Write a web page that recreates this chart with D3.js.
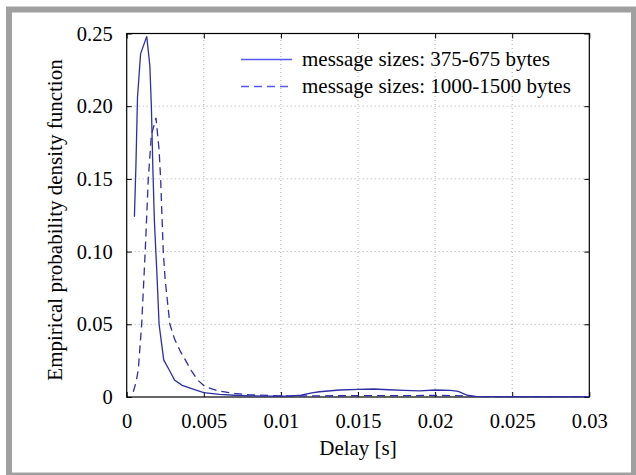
<!DOCTYPE html>
<html>
<head>
<meta charset="utf-8">
<script src="https://cdn.jsdelivr.net/npm/d3@7"></script>
<style>
  body { margin: 0; background: #fff; }
  svg { display: block; }
  text { font-family: "Liberation Serif", "DejaVu Serif", serif; fill: #000; }
</style>
</head>
<body>
<div id="chart"></div>
<script>
// delay [s] and empirical pdf
const smallX = [0.0005, 0.0006, 0.0007, 0.0009, 0.0013, 0.0015, 0.0016, 0.0017, 0.0018, 0.00195, 0.0021, 0.0024, 0.00276, 0.0031, 0.0036, 0.0045, 0.005, 0.006, 0.007, 0.008, 0.009, 0.010, 0.0105, 0.0113, 0.012, 0.0125, 0.0138, 0.015, 0.016, 0.017, 0.018, 0.019, 0.020, 0.021, 0.0215, 0.0221, 0.0225, 0.025, 0.030];
const smallY = [0.124, 0.160, 0.206, 0.236, 0.248, 0.228, 0.200, 0.156, 0.120, 0.087, 0.050, 0.0255, 0.0186, 0.0117, 0.008, 0.0048, 0.003, 0.0018, 0.0012, 0.0008, 0.0006, 0.0005, 0.0006, 0.0012, 0.0028, 0.0036, 0.0048, 0.0052, 0.0055, 0.005, 0.0046, 0.0042, 0.0048, 0.0046, 0.0038, 0.0012, 0.0004, 0.0003, 0.0003];

const largeX = [0.00043, 0.0006, 0.00075, 0.00097, 0.00114, 0.0012, 0.0014, 0.0016, 0.0019, 0.0021, 0.0022, 0.00237, 0.0025, 0.0028, 0.0031, 0.0035, 0.0038, 0.0042, 0.0046, 0.0051, 0.006, 0.007, 0.008, 0.010, 0.012, 0.015, 0.018, 0.020, 0.022, 0.023, 0.030];
const largeY = [0.0036, 0.010, 0.0186, 0.050, 0.087, 0.100, 0.150, 0.180, 0.192, 0.170, 0.150, 0.100, 0.080, 0.050, 0.040, 0.031, 0.0255, 0.018, 0.0117, 0.007, 0.004, 0.0025, 0.0015, 0.0008, 0.0008, 0.0009, 0.0009, 0.0011, 0.0008, 0.0003, 0.0002];

const xTicks = [0, 0.005, 0.01, 0.015, 0.02, 0.025, 0.03];
const xTickLabels = ['0', '0.005', '0.01', '0.015', '0.02', '0.025', '0.03'];
const yTicks = [0, 0.05, 0.10, 0.15, 0.20, 0.25];
const yTickLabels = ['0', '0.05', '0.10', '0.15', '0.20', '0.25'];
const seriesNames = ['message sizes: 375-675 bytes', 'message sizes: 1000-1500 bytes'];

const width = 636, height = 475;
const margin = { top: 33.5, right: 46.7, bottom: 78, left: 126.7 };
const lineColor = '#2e2ea6';

const svg = d3.select('#chart')
    .append('svg')
    .attr('width', width)
    .attr('height', height);

// gray frame round the figure
svg.append('rect')
    .attr('x', 9).attr('y', 9.5)
    .attr('width', 625).attr('height', 466)
    .attr('fill', 'none')
    .attr('stroke', '#a0a0a0')
    .attr('stroke-width', 6);

const x = d3.scaleLinear().domain([0, 0.03]).range([margin.left, width - margin.right]);
const y = d3.scaleLinear().domain([0, 0.25]).range([height - margin.bottom, margin.top]);

// dotted grid
svg.append('g')
    .selectAll('line')
    .data(xTicks.slice(1, -1))
    .enter()
    .append('line')
    .attr('x1', d => x(d)).attr('x2', d => x(d))
    .attr('y1', y(0)).attr('y2', y(0.25))
    .attr('stroke', '#aaa')
    .attr('stroke-width', 1)
    .attr('stroke-dasharray', '1,3');

svg.append('g')
    .selectAll('line')
    .data(yTicks.slice(1, -1))
    .enter()
    .append('line')
    .attr('x1', x(0)).attr('x2', x(0.03))
    .attr('y1', d => y(d)).attr('y2', d => y(d))
    .attr('stroke', '#aaa')
    .attr('stroke-width', 1)
    .attr('stroke-dasharray', '1,3');

// axes, ticks pointing inward on all four sides
const fmtX = (d, i) => xTickLabels[i];
const fmtY = (d, i) => yTickLabels[i];

const xAxis = svg.append('g')
    .attr('transform', `translate(0,${y(0)})`)
    .call(d3.axisBottom(x).tickValues(xTicks).tickFormat(fmtX).tickSizeInner(-5).tickSizeOuter(0).tickPadding(16));
const xTop = svg.append('g')
    .attr('transform', `translate(0,${y(0.25)})`)
    .call(d3.axisTop(x).tickValues(xTicks).tickFormat('').tickSizeInner(-5).tickSizeOuter(0));
const yAxis = svg.append('g')
    .attr('transform', `translate(${x(0)},0)`)
    .call(d3.axisLeft(y).tickValues(yTicks).tickFormat(fmtY).tickSizeInner(-5).tickSizeOuter(0).tickPadding(14));
const yRight = svg.append('g')
    .attr('transform', `translate(${x(0.03)},0)`)
    .call(d3.axisRight(y).tickValues(yTicks).tickFormat('').tickSizeInner(-5).tickSizeOuter(0));

[xAxis, xTop, yAxis, yRight].forEach(g => {
    g.select('.domain').remove();
    g.selectAll('line').attr('stroke', '#000');
    g.selectAll('text').attr('font-size', '20.5px').attr('font-family', '"Liberation Serif", serif');
});

// box
svg.append('rect')
    .attr('x', x(0)).attr('y', y(0.25))
    .attr('width', x(0.03) - x(0))
    .attr('height', y(0) - y(0.25))
    .attr('fill', 'none')
    .attr('stroke', '#000')
    .attr('stroke-width', 1.2);

// curves
const line = d3.line()
    .x(d => x(d[0]))
    .y(d => y(d[1]));

svg.append('path')
    .datum(d3.zip(smallX, smallY))
    .attr('d', line)
    .attr('fill', 'none')
    .attr('stroke', lineColor)
    .attr('stroke-width', 1.3);

svg.append('path')
    .datum(d3.zip(largeX, largeY))
    .attr('d', line)
    .attr('fill', 'none')
    .attr('stroke', lineColor)
    .attr('stroke-width', 1.3)
    .attr('stroke-dasharray', '8,5');

// legend
const legend = svg.append('g');
seriesNames.forEach((name, i) => {
    const ly = 59.5 + i * 27;
    legend.append('line')
        .attr('x1', 241).attr('x2', 292)
        .attr('y1', ly).attr('y2', ly)
        .attr('stroke', '#5858f0')
        .attr('stroke-width', 1.3)
        .attr('stroke-dasharray', i === 1 ? '8,5' : null);
    legend.append('text')
        .attr('x', 302).attr('y', ly + 6.5)
        .attr('font-size', '21px')
        .text(name);
});

// axis titles
svg.append('text')
    .attr('x', x(0.015)).attr('y', 455)
    .attr('text-anchor', 'middle')
    .attr('font-size', '21px')
    .text('Delay [s]');

svg.append('text')
    .attr('transform', 'translate(62,220) rotate(-90)')
    .attr('text-anchor', 'middle')
    .attr('font-size', '21px')
    .text('Empirical probability density function');
</script>
</body>
</html>
